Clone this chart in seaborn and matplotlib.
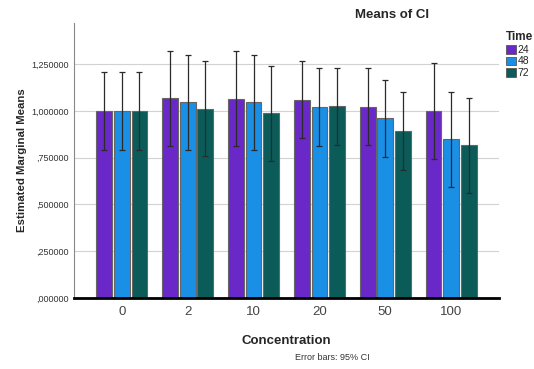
import numpy as np
import pandas as pd
import matplotlib
matplotlib.use("Agg")
import matplotlib.pyplot as plt
import seaborn as sns
from matplotlib.patches import Patch

# Estimated marginal means of CI by concentration and time
concentrations = ["0", "2", "10", "20", "50", "100"]
times = ["24", "48", "72"]
mean_24 = [1.000, 1.068, 1.066, 1.059, 1.023, 1.000]
mean_48 = [1.000, 1.046, 1.046, 1.021, 0.961, 0.849]
mean_72 = [1.000, 1.012, 0.988, 1.025, 0.895, 0.816]
# 95% CI bounds
lower_24 = [0.791, 0.813, 0.813, 0.854, 0.817, 0.745]
upper_24 = [1.209, 1.321, 1.319, 1.266, 1.230, 1.255]
lower_48 = [0.791, 0.791, 0.791, 0.815, 0.754, 0.595]
upper_48 = [1.209, 1.301, 1.301, 1.228, 1.166, 1.102]
lower_72 = [0.791, 0.758, 0.733, 0.817, 0.684, 0.560]
upper_72 = [1.209, 1.266, 1.241, 1.232, 1.100, 1.070]
ytick_values = [0.0, 0.25, 0.5, 0.75, 1.0, 1.25]
ytick_labels = [",000000", ",250000", ",500000", ",750000", "1,000000", "1,250000"]

colors = {"24": "#6a28c8", "48": "#1a8fe6", "72": "#0b5b59"}

means = {"24": mean_24, "48": mean_48, "72": mean_72}
lows = {"24": lower_24, "48": lower_48, "72": lower_72}
highs = {"24": upper_24, "48": upper_48, "72": upper_72}

rows = []
for t in times:
    for i, c in enumerate(concentrations):
        rows.append({"Concentration": c, "Time": t, "Mean": means[t][i],
                     "Low": lows[t][i], "High": highs[t][i]})
df = pd.DataFrame(rows)

sns.set_theme(style="white")
plt.rcParams["font.family"] = ["Liberation Sans", "DejaVu Sans"]

fig = plt.figure(figsize=(5.34, 3.69), dpi=100)
ax = fig.add_axes([74 / 534, 1 - 298 / 369, 425 / 534, 275 / 369])

sns.barplot(data=df, x="Concentration", y="Mean", hue="Time",
            order=concentrations, hue_order=times, palette=colors,
            saturation=1, errorbar=None, width=0.8, gap=0.1,
            edgecolor="#666666", linewidth=0.8, legend=False, ax=ax)

# error bars at bar centers
for container, t in zip(ax.containers, times):
    sub = df[df["Time"] == t].set_index("Concentration").loc[concentrations]
    xs = [p.get_x() + p.get_width() / 2 for p in container.patches]
    m = sub["Mean"].values
    yerr = np.vstack([m - sub["Low"].values, sub["High"].values - m])
    ax.errorbar(xs, m, yerr=yerr, fmt="none", ecolor="#2b2b2b",
                elinewidth=0.9, capsize=2.2, capthick=0.9, zorder=5)

ax.set_xlim(-0.727, 5.727)
ax.set_ylim(0, 1.47)
ax.set_yticks(ytick_values)
ax.set_yticklabels(ytick_labels, fontsize=6.5, color="#333333")
ax.tick_params(axis="x", labelsize=9.5, labelcolor="#444444", length=0, pad=6)
ax.tick_params(axis="y", length=0, pad=4)
ax.yaxis.grid(True, color="#d2d2d2", linewidth=0.8)
ax.set_axisbelow(True)

for s in ["top", "right"]:
    ax.spines[s].set_visible(False)
ax.spines["left"].set_color("#888888")
ax.spines["left"].set_linewidth(0.8)
ax.spines["bottom"].set_color("black")
ax.spines["bottom"].set_linewidth(2.0)

ax.set_xlabel("Concentration", fontsize=9.5, fontweight="bold", labelpad=12)
ax.set_ylabel("Estimated Marginal Means", fontsize=8.2, fontweight="bold", labelpad=3)

fig.text(392 / 534, 1 - 15 / 369, "Means of CI", ha="center", va="center",
         fontsize=9.5, fontweight="bold")
fig.text(332 / 534, 1 - 357 / 369, "Error bars: 95% CI", ha="center", va="center",
         fontsize=6.5, color="#333333")

handles = [Patch(facecolor=colors[t], edgecolor="#555555", linewidth=0.6, label=t) for t in times]
leg = fig.legend(handles=handles, title="Time", loc="upper left",
                 bbox_to_anchor=(499 / 534, 1 - 24 / 369), frameon=False,
                 fontsize=7.5, title_fontsize=8.5, handlelength=0.9, handleheight=0.9,
                 handletextpad=0.2, labelspacing=0.15, borderpad=0.2)
leg.get_title().set_fontweight("bold")
leg._legend_box.align = "left"

fig.savefig("out.png", dpi=100)
